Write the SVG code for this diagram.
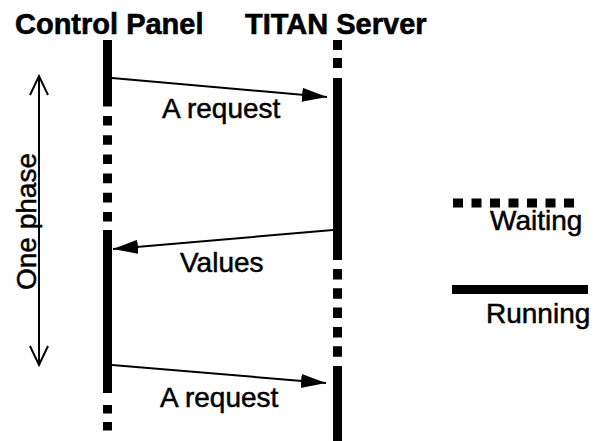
<svg xmlns="http://www.w3.org/2000/svg" width="598" height="441" viewBox="0 0 598 441">
  <style>
    .head { font-family: "Liberation Sans", Arial, sans-serif; font-weight: bold; font-size: 29px; fill: #000; stroke: #000; stroke-width: 0.6px; }
    .lbl { font-family: "Liberation Sans", Arial, sans-serif; font-size: 28px; fill: #000; stroke: #000; stroke-width: 0.5px; }
    .run { stroke: #000; stroke-width: 9; fill: none; }
    .wait { stroke: #000; stroke-width: 9; fill: none; stroke-dasharray: 9.6 9.6; }
    .msg { stroke: #000; stroke-width: 2; fill: none; }
  </style>
  <defs>
    <marker id="head" markerUnits="userSpaceOnUse" markerWidth="26" markerHeight="16" refX="25" refY="7" orient="auto">
      <path d="M0,0 L25,7 L0,14 Z" fill="#000"/>
    </marker>
    <marker id="open" markerUnits="userSpaceOnUse" markerWidth="24" markerHeight="24" refX="20" refY="10" orient="auto-start-reverse">
      <path d="M1,1 L20,10 L1,19" fill="none" stroke="#000" stroke-width="2"/>
    </marker>
  </defs>

  <!-- column headings -->
  <text class="head" x="15" y="34">Control Panel</text>
  <text class="head" x="245" y="34">TITAN Server</text>

  <!-- Control Panel lifeline -->
  <g id="control-panel">
    <line class="run" x1="107.5" y1="40" x2="107.5" y2="106.5"/>
    <line class="wait" x1="107.5" y1="116" x2="107.5" y2="221.5"/>
    <line class="run" x1="107.5" y1="230" x2="107.5" y2="393"/>
    <line class="wait" x1="107.5" y1="405" x2="107.5" y2="432" style="stroke-dasharray: 8.5 8.5"/>
  </g>

  <!-- TITAN Server lifeline -->
  <g id="titan-server">
    <line class="wait" x1="337.5" y1="40" x2="337.5" y2="68" style="stroke-dasharray: 10 8"/>
    <line class="run" x1="337.5" y1="78" x2="337.5" y2="260"/>
    <line class="wait" x1="337.5" y1="269" x2="337.5" y2="357" style="stroke-dasharray: 10.5 8.8"/>
    <line class="run" x1="337.5" y1="366" x2="337.5" y2="441"/>
  </g>

  <!-- messages -->
  <g id="connectors">
    <line class="msg" x1="112" y1="78" x2="327" y2="97" marker-end="url(#head)"/>
    <line class="msg" x1="333" y1="230" x2="113" y2="249" marker-end="url(#head)"/>
    <line class="msg" x1="112" y1="365" x2="326" y2="383" marker-end="url(#head)"/>
  </g>

  <g id="message-labels">
    <text class="lbl" x="162" y="118">A request</text>
    <text class="lbl" x="180" y="272">Values</text>
    <text class="lbl" x="160" y="407">A request</text>
  </g>

  <!-- phase span -->
  <g id="phase">
    <line class="msg" x1="39" y1="76" x2="39" y2="365" marker-start="url(#open)" marker-end="url(#open)"/>
    <text class="lbl" transform="translate(36,290) rotate(-90)">One phase</text>
  </g>

  <!-- legend -->
  <g id="legend">
    <line class="wait" x1="453" y1="203" x2="582" y2="203" style="stroke-dasharray: 10 8.5"/>
    <text class="lbl" x="490" y="230">Waiting</text>
    <line class="run" x1="452" y1="289.5" x2="588" y2="289.5"/>
    <text class="lbl" x="486" y="323">Running</text>
  </g>
</svg>
